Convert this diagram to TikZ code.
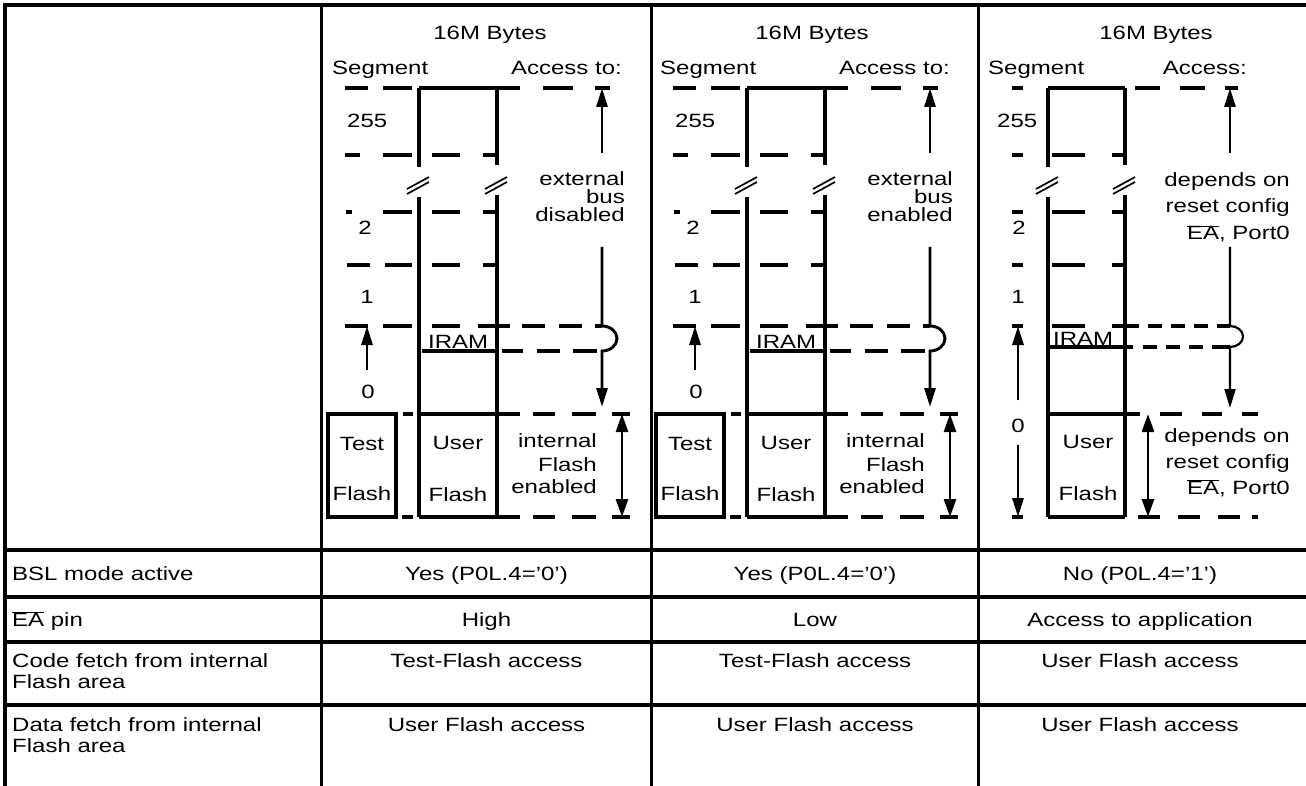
\documentclass[tikz,border=0pt]{standalone}
\usepackage{fontspec}
\setmainfont{Liberation Sans}
\usepackage{graphicx}
\usetikzlibrary{arrows.meta}
\newcommand\sq[1]{\scalebox{1}[0.8]{#1}}
\newcommand\ovEA{$\overline{\mbox{EA}}$}
\tikzset{
  tx/.style={inner sep=0pt, font=\fontsize{24}{28}\selectfont},
  ln/.style={line width=3.3pt},
  sg/.style={line width=3.1pt},
  arr/.style={line width=2.9pt, -{Triangle[length=19pt,width=11pt]}},
  tarr/.style={line width=2.2pt, -{Triangle[length=19pt,width=11pt]}},
  darr/.style={line width=2.9pt, {Triangle[length=18pt,width=12pt]}-{Triangle[length=18pt,width=12pt]}},
  brk/.style={line width=1.7pt},
}
\newcommand\dsh[2]{\foreach \p/\q in {#2} \draw[sg] (\p,#1) -- (\q,#1);}
% memory map with test flash; #1 shift, #2 prefix, #3 16M centre, #4 last word
\newcommand\memdiag[4]{%
\begin{scope}[xshift=#1pt, name prefix=#2-]
  \draw[ln] (419,88) -- (419,167); \draw[ln] (419,197) -- (419,517);
  \draw[ln] (497,88) -- (497,165); \draw[ln] (497,195) -- (497,517);
  \draw[sg] (419,88) -- (520,88);
  \draw[sg] (419,517) -- (497,517);
  \draw[sg] (419,414) -- (497,414);
  \draw[sg] (422,351) -- (497,351);
  \draw[sg] (328,414) rectangle (396,517);
  \dsh{88}{345/368,383/412,543/573,595/610}
  \dsh{155}{345/360,383/412,432/460,483/497}
  \dsh{212}{346/352,383/412,432/460,483/497}
  \dsh{265}{347/370,385/412,432/460,483/497}
  \dsh{326}{345/368,383/412,432/460,478/497,497/510,522/545,559/582,595/602}
  \dsh{351}{502/523,537/560,573/597}
  \dsh{414}{403/413,497/520,533/555,572/596,612/630}
  \dsh{517}{402/413,497/520,533/555,572/596,612/630}
  \draw[brk] (407,189) -- (429,177); \draw[brk] (407,194) -- (429,182);
  \draw[brk] (485,189) -- (507,177); \draw[brk] (485,194) -- (507,182);
  \draw[arr] (602,153) -- (602,88);
  \draw[arr] (602,247) -- (602,326) arc[start angle=-90,end angle=90,x radius=15,y radius=12.5] -- (602,407);
  \draw[arr] (367,370) -- (367,326);
  \draw[darr] (622,414) -- (622,517);
  \node[tx, anchor=base] (mb) at (#3,40) {\sq{16M Bytes}};
  \node[tx, anchor=base west] (seg) at (332,75) {\sq{Segment}};
  \node[tx, anchor=base east] (acc) at (622,75) {\sq{Access to:}};
  \node[tx, anchor=base west] (s255) at (347,128) {\sq{255}};
  \node[tx, anchor=base] (s2) at (365,235) {\sq{2}};
  \node[tx, anchor=base] (s1) at (367,303) {\sq{1}};
  \node[tx, anchor=base] (s0) at (368,398) {\sq{0}};
  \node[tx, anchor=base west] (iram) at (428,348) {\sq{IRAM}};
  \node[tx, anchor=base east] (ea) at (625,186) {\sq{external}};
  \node[tx, anchor=base east] (eb) at (625,204) {\sq{bus}};
  \node[tx, anchor=base east] (ec) at (625,222) {\sq{#4}};
  \node[tx, anchor=base east] (ia) at (597,447) {\sq{internal}};
  \node[tx, anchor=base east] (ib) at (597,471) {\sq{Flash}};
  \node[tx, anchor=base east] (ic) at (597,493) {\sq{enabled}};
  \node[tx, anchor=base] (tf1) at (362,450) {\sq{Test}};
  \node[tx, anchor=base] (tf2) at (362,500) {\sq{Flash}};
  \node[tx, anchor=base] (uf1) at (458,449) {\sq{User}};
  \node[tx, anchor=base] (uf2) at (458,501) {\sq{Flash}};
\end{scope}}
\begin{document}
\begin{tikzpicture}[x=1pt,y=-1pt]
\useasboundingbox (0,0) rectangle (1306,786);
% table frame
\draw[ln] (1306,5) -- (5,5) -- (5,786);
\foreach \yy in {550,597,642,705} \draw[ln] (5,\yy) -- (1306,\yy);
\foreach \xx in {321.5,651.5,978.5} \draw[ln] (\xx,5) -- (\xx,786);

\memdiag{0}{d1}{490}{disabled}
\memdiag{328}{d2}{484}{enabled}

% third memory map
\draw[ln] (1048,88) -- (1048,167); \draw[ln] (1048,197) -- (1048,517);
\draw[ln] (1125,88) -- (1125,165); \draw[ln] (1125,195) -- (1125,517);
\draw[sg] (1048,88) -- (1125,88);
\draw[sg] (1048,414) -- (1125,414);
\draw[sg] (1048,517) -- (1125,517);
\draw[sg] (1050,347) -- (1125,347);
\dsh{88}{1012/1023,1135/1160,1180/1205,1225/1238}
\dsh{155}{1012/1023,1052/1085,1112/1125}
\dsh{212}{1012/1023,1052/1085,1112/1125}
\dsh{265}{1012/1023,1052/1085,1112/1125}
\dsh{326}{1012/1023,1052/1085,1112/1125,1125/1139,1148/1162,1171/1185,1194/1208,1217/1230}
\dsh{347}{1125/1133,1143/1157,1166/1180,1189/1203,1212/1230}
\dsh{414}{1125/1140,1160/1182,1202/1222,1242/1258}
\dsh{517}{1012/1023,1138/1160,1178/1200,1218/1240,1252/1258}
\draw[brk] (1036,189) -- (1058,177); \draw[brk] (1036,194) -- (1058,182);
\draw[brk] (1113,189) -- (1135,177); \draw[brk] (1113,194) -- (1135,182);
\draw[arr] (1230,153) -- (1230,88);
\draw[tarr] (1230,247) -- (1230,326) arc[start angle=-90,end angle=90,x radius=13,y radius=10.5] -- (1230,408);
\draw[darr] (1148,414) -- (1148,517);
\draw[arr] (1018,400) -- (1018,326);
\draw[arr] (1018,445) -- (1018,517);
\node[tx, anchor=base] (d3-mb) at (1156,40) {\sq{16M Bytes}};
\node[tx, anchor=base west] (d3-seg) at (988,75) {\sq{Segment}};
\node[tx, anchor=base east] (d3-acc) at (1247,75) {\sq{Access:}};
\node[tx, anchor=base west] (d3-s255) at (997,128) {\sq{255}};
\node[tx, anchor=base] (d3-s2) at (1019,235) {\sq{2}};
\node[tx, anchor=base] (d3-s1) at (1018,303) {\sq{1}};
\node[tx, anchor=base] (d3-s0) at (1018,432) {\sq{0}};
\node[tx, anchor=base west] (d3-iram) at (1053,345) {\sq{IRAM}};
\node[tx, anchor=base east] (d3-ua) at (1290,187) {\sq{depends on}};
\node[tx, anchor=base east] (d3-ub) at (1290,213) {\sq{reset config}};
\node[tx, anchor=base east] (d3-uc) at (1290,240) {\sq{\ovEA, Port0}};
\node[tx, anchor=base east] (d3-la) at (1290,442) {\sq{depends on}};
\node[tx, anchor=base east] (d3-lb) at (1290,468) {\sq{reset config}};
\node[tx, anchor=base east] (d3-lc) at (1290,494) {\sq{\ovEA, Port0}};
\node[tx, anchor=base] (d3-uf1) at (1088,448) {\sq{User}};
\node[tx, anchor=base] (d3-uf2) at (1088,500) {\sq{Flash}};

% table rows
\node[tx, anchor=base west] (r1) at (12,580) {\sq{BSL mode active}};
\node[tx, anchor=base west] (r2) at (12,626) {\sq{\ovEA{} pin}};
\node[tx, anchor=base west] (r3a) at (12,667) {\sq{Code fetch from internal}};
\node[tx, anchor=base west] (r3b) at (12,688) {\sq{Flash area}};
\node[tx, anchor=base west] (r4a) at (12,731) {\sq{Data fetch from internal}};
\node[tx, anchor=base west] (r4b) at (12,752) {\sq{Flash area}};
\node[tx, anchor=base] (c2r1) at (486.5,580) {\sq{Yes (P0L.4=’0’)}};
\node[tx, anchor=base] (c2r2) at (486.5,626) {\sq{High}};
\node[tx, anchor=base] (c2r3) at (486.5,667) {\sq{Test-Flash access}};
\node[tx, anchor=base] (c2r4) at (486.5,731) {\sq{User Flash access}};
\node[tx, anchor=base] (c3r1) at (815,580) {\sq{Yes (P0L.4=’0’)}};
\node[tx, anchor=base] (c3r2) at (815,626) {\sq{Low}};
\node[tx, anchor=base] (c3r3) at (815,667) {\sq{Test-Flash access}};
\node[tx, anchor=base] (c3r4) at (815,731) {\sq{User Flash access}};
\node[tx, anchor=base] (c4r1) at (1140,580) {\sq{No (P0L.4=’1’)}};
\node[tx, anchor=base] (c4r2) at (1140,626) {\sq{Access to application}};
\node[tx, anchor=base] (c4r3) at (1140,667) {\sq{User Flash access}};
\node[tx, anchor=base] (c4r4) at (1140,731) {\sq{User Flash access}};
\end{tikzpicture}
\end{document}
